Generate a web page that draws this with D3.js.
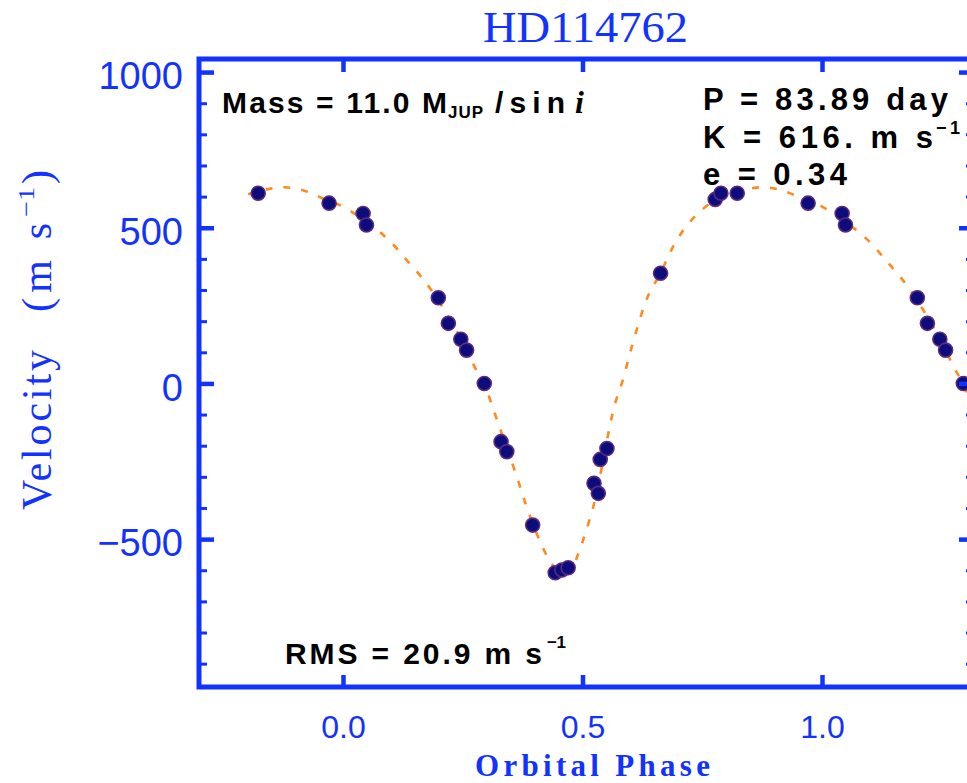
<!DOCTYPE html>
<html>
<head>
<meta charset="utf-8">
<script src="https://cdn.jsdelivr.net/npm/d3@7"></script>
<style>
  html, body { margin: 0; padding: 0; background: #fff; overflow: hidden; }
</style>
</head>
<body>
<div id="chart"></div>
<script>
// measured radial velocities, phase folded on one period
const phases = [0.042, 0.049, 0.199, 0.220, 0.246, 0.258, 0.295, 0.330, 0.342, 0.396, 0.443,
  0.457, 0.470, 0.524, 0.533, 0.537, 0.551, 0.663, 0.777, 0.789, 0.823, 0.971];
const velocities = [546, 509, 275, 193, 142, 107, 0, -187, -219, -455, -608,
  -599, -592, -321, -353, -244, -209, 354, 591, 611, 611, 579];

const fitPhase = [0.000, 0.040, 0.084, 0.109, 0.133, 0.157, 0.182, 0.220, 0.250, 0.276, 0.294,
  0.324, 0.363, 0.387, 0.418, 0.436, 0.455, 0.475, 0.491, 0.505, 0.526, 0.554, 0.568, 0.582,
  0.603, 0.627, 0.641, 0.663, 0.679, 0.697, 0.719, 0.745, 0.780, 0.802, 0.843, 0.877, 0.919, 0.971];
const fitVel = [568, 528, 477, 439, 396, 354, 305, 214, 132, 50, 0,
  -128, -300, -412, -530, -580, -612, -600, -548, -485, -375, -160, -64, 0,
  118, 241, 295, 354, 408, 461, 509, 552, 592, 608, 624, 630, 619, 585];

const xMajor = [0, 0.5, 1.0];
const yMajor = [-500, 0, 500, 1000];
const yMinor = [-900, -800, -700, -600, -400, -300, -200, -100, 100, 200, 300, 400, 600, 700, 800, 900];

const titleText = "HD114762";
const massLabel = "Mass = 11.0 M";
const periodLabel = "P = 83.89 day";
const ampLabel = "K = 616. m s";
const eccLabel = "e = 0.34";
const rmsLabel = "RMS = 20.9 m s";

const width = 967, height = 783;
const pLeft = 199, pRight = 974, pTop = 59, pBottom = 687;
const blue = "#1232ff";

const svg = d3.select("#chart").append("svg")
  .attr("width", width)
  .attr("height", height);

const x = d3.scaleLinear().domain([-0.3006, 1.3173]).range([pLeft, pRight]);
const y = d3.scaleLinear().domain([-975, 1042]).range([pBottom, pTop]);

svg.append("defs").append("clipPath").attr("id", "plotClip")
  .append("rect")
  .attr("x", pLeft).attr("y", pTop)
  .attr("width", pRight - pLeft).attr("height", pBottom - pTop);

// fold copies one period either side, as the original plot does
let pts = [];
phases.forEach((p, i) => {
  [p - 1, p, p + 1].forEach(q => {
    if (q >= -0.2 && q <= 1.3) pts.push({ p: q, v: velocities[i] });
  });
});

let fit = [];
[-1, 0, 1].forEach(s => {
  fitPhase.forEach((p, i) => {
    const q = p + s;
    if (q >= -0.2 && q <= 1.4) fit.push({ p: q, v: fitVel[i] });
  });
});
fit.sort((a, b) => a.p - b.p);

const line = d3.line()
  .x(d => x(d.p))
  .y(d => y(d.v))
  .curve(d3.curveCatmullRom.alpha(0.5));

svg.append("path")
  .datum(fit)
  .attr("clip-path", "url(#plotClip)")
  .attr("d", line)
  .attr("fill", "none")
  .attr("stroke", "#ff8a1e")
  .attr("stroke-width", 2.6)
  .attr("stroke-dasharray", "7,11");

svg.append("g")
  .attr("clip-path", "url(#plotClip)")
  .selectAll("circle")
  .data(pts)
  .enter().append("circle")
  .attr("cx", d => x(d.p))
  .attr("cy", d => y(d.v))
  .attr("r", 7)
  .attr("fill", "#0c0c7c")
  .attr("stroke", "#5a2a7c")
  .attr("stroke-width", 1.6);

// axes: ticks point inward
function styleTicks(g, w) {
  g.select(".domain").remove();
  g.selectAll(".tick line").attr("stroke", blue).attr("stroke-width", w);
}

svg.append("g")
  .attr("transform", `translate(${pLeft},0)`)
  .call(d3.axisLeft(y).tickValues(yMinor).tickSize(-8).tickFormat(""))
  .call(g => styleTicks(g, 3));

const yAx = svg.append("g")
  .attr("transform", `translate(${pLeft},0)`)
  .call(d3.axisLeft(y).tickValues(yMajor).tickSize(-15).tickPadding(16).tickFormat(d3.format("d")))
  .call(g => styleTicks(g, 4.5));
yAx.selectAll("text")
  .attr("dy", "0.44em")
  .attr("fill", blue)
  .style("font-family", "'Liberation Sans', Arial, sans-serif")
  .style("font-size", "38px")
  .text(d => d < 0 ? "\u2212" + Math.abs(d) : d);

svg.append("g")
  .attr("transform", `translate(${pRight},0)`)
  .call(d3.axisRight(y).tickValues(yMinor).tickSize(-8).tickFormat(""))
  .call(g => styleTicks(g, 3));
svg.append("g")
  .attr("transform", `translate(${pRight},0)`)
  .call(d3.axisRight(y).tickValues(yMajor).tickSize(-15).tickFormat(""))
  .call(g => styleTicks(g, 4.5));

const xAx = svg.append("g")
  .attr("transform", `translate(0,${pBottom})`)
  .call(d3.axisBottom(x).tickValues(xMajor).tickSize(-12).tickFormat(d3.format(".1f")))
  .call(g => styleTicks(g, 4.5));
xAx.selectAll("text")
  .attr("y", 51)
  .attr("dy", null)
  .attr("fill", blue)
  .style("font-family", "'Liberation Sans', Arial, sans-serif")
  .style("font-size", "32px");

svg.append("g")
  .attr("transform", `translate(0,${pTop})`)
  .call(d3.axisTop(x).tickValues(xMajor).tickSize(-13).tickFormat(""))
  .call(g => styleTicks(g, 4.5));

// frame
svg.append("rect")
  .attr("x", pLeft).attr("y", pTop)
  .attr("width", pRight - pLeft).attr("height", pBottom - pTop)
  .attr("fill", "none")
  .attr("stroke", blue)
  .attr("stroke-width", 5);

// title and axis titles
svg.append("text")
  .attr("x", 483).attr("y", 42)
  .attr("textLength", 205).attr("lengthAdjust", "spacingAndGlyphs")
  .attr("fill", blue)
  .style("font-family", "'Liberation Serif', 'Times New Roman', serif")
  .style("font-size", "45px")
  .text(titleText);

svg.append("text")
  .attr("x", 475).attr("y", 776)
  .attr("textLength", 235).attr("lengthAdjust", "spacing")
  .attr("fill", blue)
  .style("font-family", "'Liberation Serif', 'Times New Roman', serif")
  .style("font-weight", "bold")
  .style("font-size", "31px")
  .text("Orbital Phase");

const yt = svg.append("g")
  .attr("transform", "translate(51,0) rotate(-90)")
  .attr("fill", blue)
  .style("font-family", "'Liberation Serif', 'Times New Roman', serif");
yt.append("text").attr("x", -510).attr("y", 0)
  .attr("textLength", 160).attr("lengthAdjust", "spacing")
  .style("font-size", "42px").text("Velocity");
yt.append("text").attr("x", -312).attr("y", 0)
  .attr("textLength", 89).attr("lengthAdjust", "spacing")
  .style("font-size", "42px").text("(m s");
yt.append("text").attr("x", -217).attr("y", -17)
  .attr("textLength", 30).attr("lengthAdjust", "spacingAndGlyphs")
  .style("font-size", "24px").text("\u22121");
yt.append("text").attr("x", -184).attr("y", 0)
  .style("font-size", "42px").text(")");

// annotations
function label(txt, x0, x1, yb, size) {
  return svg.append("text")
    .attr("x", x0).attr("y", yb)
    .attr("textLength", x1 - x0).attr("lengthAdjust", "spacing")
    .attr("fill", "#000")
    .style("font-family", "'Liberation Sans', Arial, sans-serif")
    .style("font-weight", "bold")
    .style("font-size", size + "px")
    .text(txt);
}

label(massLabel, 222, 447, 113, 30);
label("JUP", 448, 483, 118, 17);
label("/sin", 495, 565, 113, 30);
svg.append("text")
  .attr("x", 575).attr("y", 113)
  .attr("fill", "#000")
  .style("font-family", "'Liberation Serif', 'Times New Roman', serif")
  .style("font-style", "italic")
  .style("font-weight", "bold")
  .style("font-size", "32px")
  .text("i");

label(periodLabel, 703, 948, 110, 31);
label(ampLabel, 703, 933, 148, 31);
label("\u22121", 936, 960, 134, 18);
label(eccLabel, 703, 847, 185, 31);

label(rmsLabel, 285, 542, 664, 30);
label("\u22121", 547, 566, 648, 17);
</script>
</body>
</html>
